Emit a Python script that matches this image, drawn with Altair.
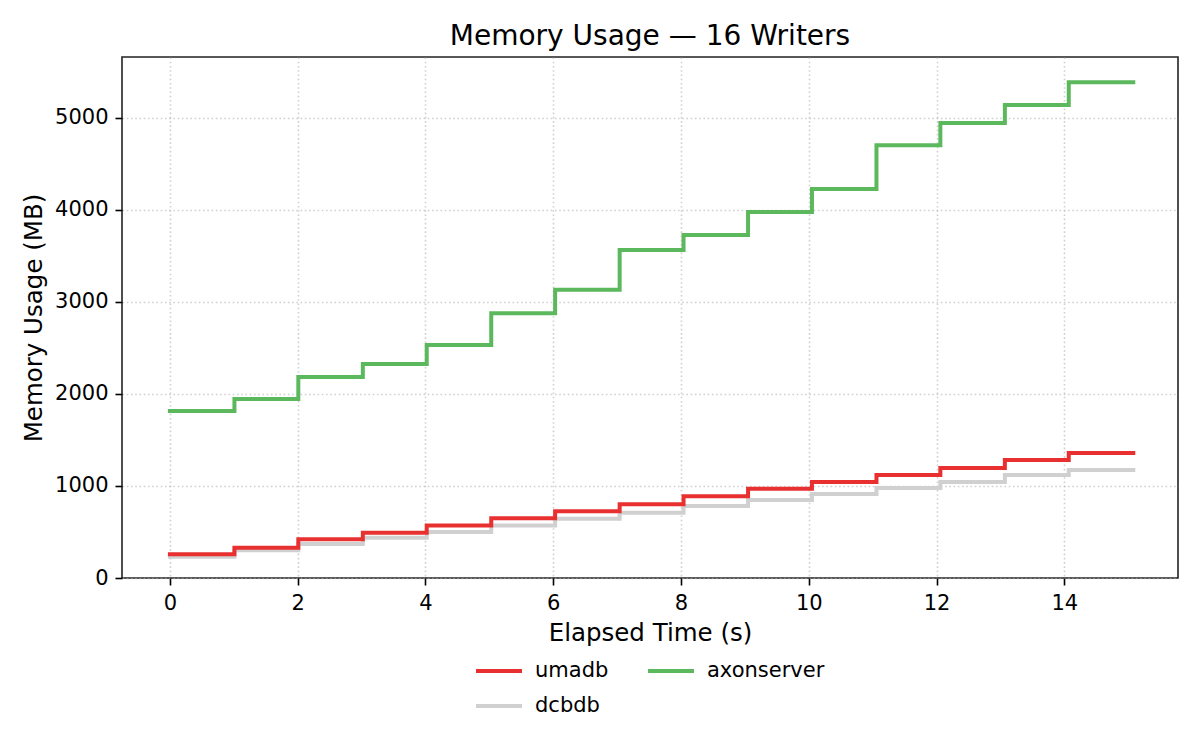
import altair as alt
import pandas as pd

times = [0, 1.01, 2.01, 3.02, 4.02, 5.03, 6.03, 7.04, 8.04, 9.05, 10.05, 11.06, 12.06, 13.07, 14.07, 15.08]
umadb = [257, 330, 420, 493, 572, 649, 725, 801, 888, 971, 1043, 1120, 1196, 1283, 1359, 1359]
dcbdb = [232, 301, 370, 438, 500, 572, 645, 710, 783, 848, 913, 978, 1043, 1120, 1174, 1174]
axonserver = [1815, 1946, 2185, 2326, 2533, 2877, 3134, 3565, 3728, 3978, 4228, 4703, 4946, 5141, 5388, 5388]

series_names = ["umadb", "axonserver", "dcbdb"]
series_colors = ["#e83030", "#5cb85c", "#d0d0d0"]
x_ticks = [0, 2, 4, 6, 8, 10, 12, 14]
y_ticks = [0, 1000, 2000, 3000, 4000, 5000]

rows = []
for name, vals in [("dcbdb", dcbdb), ("umadb", umadb), ("axonserver", axonserver)]:
    for t, v in zip(times, vals):
        rows.append({"time": t, "memory": v, "series": name})
df = pd.DataFrame(rows)

FONT = "DejaVu Sans"

chart = alt.Chart(df).mark_line(
    interpolate="step-after", strokeWidth=4, strokeCap="square"
).encode(
    x=alt.X("time:Q",
            scale=alt.Scale(domain=[-0.75, 15.78], nice=False, zero=False),
            axis=alt.Axis(values=x_ticks, title="Elapsed Time (s)", format="d")),
    y=alt.Y("memory:Q",
            scale=alt.Scale(domain=[0, 5663], nice=False),
            axis=alt.Axis(values=y_ticks, title="Memory Usage (MB)", format="d")),
    color=alt.Color("series:N",
                    scale=alt.Scale(domain=series_names, range=series_colors),
                    legend=alt.Legend(
                        title=None, orient="none", legendX=352, legendY=589,
                        columns=2, symbolType="stroke", symbolSize=2116,
                        symbolStrokeWidth=4, labelOffset=11, columnPadding=31,
                        rowPadding=-24, padding=0, labelFontSize=21, labelFont=FONT,
                        labelColor="black", direction="horizontal")),
    detail="series:N",
).properties(
    width=1056, height=521,
    title=alt.TitleParams("Memory Usage — 16 Writers", font=FONT, fontSize=28,
                          fontWeight="normal", color="black", offset=6,
                          anchor="middle"),
    padding={"left": 114, "top": 49, "right": 14, "bottom": 164},
    autosize=alt.AutoSizeParams(type="none"),
).configure_view(
    stroke="#222222", strokeWidth=1.6
).configure_axis(
    domain=False, labelFont=FONT, titleFont=FONT, labelFontSize=21, titleFontSize=24.5,
    labelColor="black", titleColor="black", titleFontWeight="normal",
    tickColor="black", tickSize=7, tickWidth=1.6, labelPadding=7, titlePadding=8,
    gridColor="#b0b0b0", gridOpacity=0.6, gridDash=[1.6, 2.64], gridWidth=1.6,
)

chart.save("out.html", embed_options={"renderer": "svg", "actions": False})
